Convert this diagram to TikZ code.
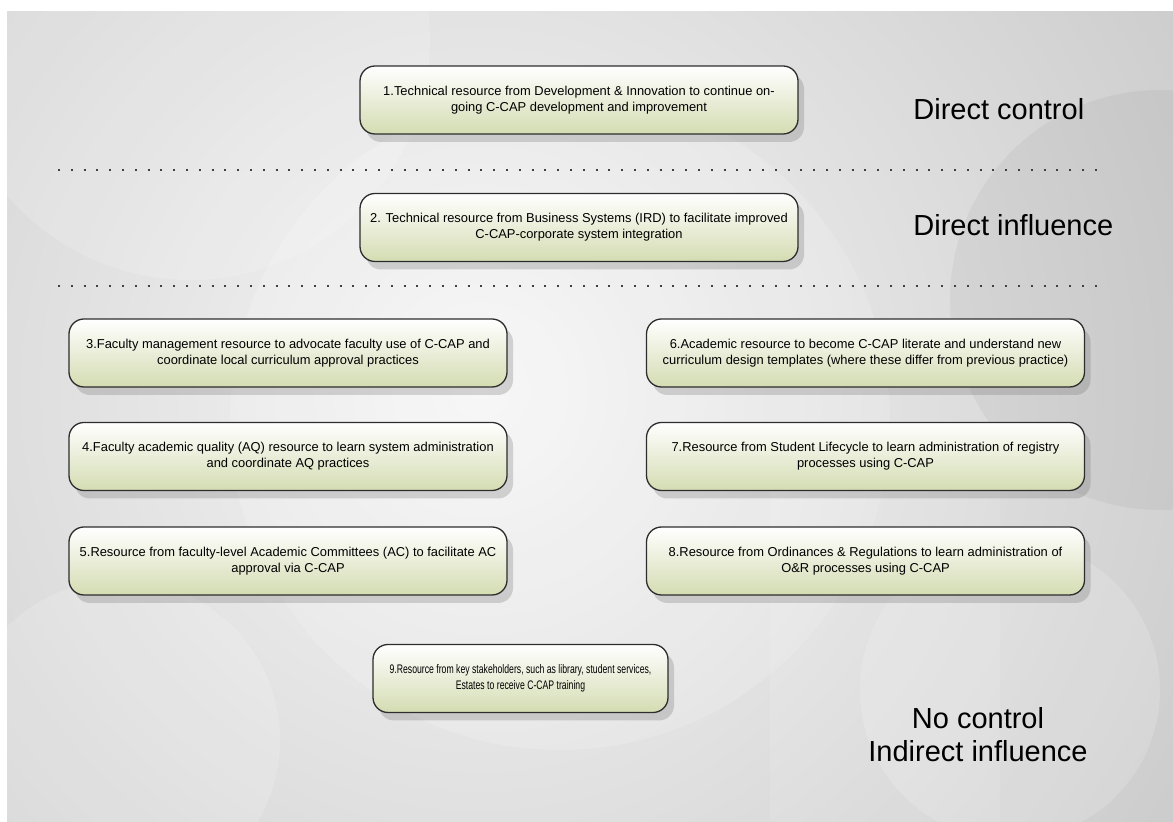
\documentclass[tikz,border=0pt]{standalone}
\usepackage{fontspec}
\setmainfont{Liberation Sans}
\newfontfamily\narrowfont[FakeStretch=0.7]{Liberation Sans}
\usetikzlibrary{shadows}
\definecolor{boxbot}{RGB}{212,220,178}
\definecolor{boxline}{RGB}{45,45,45}
\definecolor{bgout}{RGB}{200,200,200}
\definecolor{bgin}{RGB}{246,246,246}
\begin{document}
\begin{tikzpicture}[x=0.5pt,y=-0.5pt,
  resbox/.style={draw=boxline, line width=0.65pt, rounded corners=7.5pt,
    top color=white, bottom color=boxbot, minimum width=219pt,
    minimum height=34pt, align=center, font=\fontsize{6.45}{8}\selectfont,
    inner sep=0pt,
    drop shadow={shadow xshift=3pt, shadow yshift=-4pt, opacity=0.28, fill=black!55}},
  biglabel/.style={font=\fontsize{14.5}{16.5}\selectfont, inner sep=0pt},
  sepline/.style={draw=black!75, line width=1pt, dash pattern=on 1pt off 5.4pt},
  deco/.style={fill=white, opacity=0.16}]
\useasboundingbox (0,0) rectangle (1173,822);
\fill[white] (0,0) rectangle (1173,822);
\begin{scope}
  \clip (7,12) rectangle (1173,822);
  \shade[inner color=bgin, outer color=bgout] (480,390) circle (900);
  \fill[deco] (190,40) circle (240);
  \fill[deco] (560,420) circle (330);
  \fill[deco] (1010,690) circle (150);
  \fill[deco] (120,740) circle (160);
  \fill[black, opacity=0.04] (1160,300) circle (210);
  \fill[white, opacity=0.1] (770,440) rectangle (1000,822);
\end{scope}
% separators
\coordinate (s1a) at (58,170);
\coordinate (s1b) at (1105,170);
\coordinate (s2a) at (58,286);
\coordinate (s2b) at (1105,286);
\draw[sepline] (s1a) -- (s1b);
\draw[sepline] (s2a) -- (s2b);
% boxes
\node[resbox] (n1) at (579,100) {1.Technical resource from Development \& Innovation to continue on-\\going C-CAP development and improvement};
\node[resbox] (n2) at (579,227.5) {2. Technical resource from Business Systems (IRD) to facilitate improved\\C-CAP-corporate system integration};
\node[resbox] (n3) at (288,353) {3.Faculty management resource to advocate faculty use of C-CAP and\\coordinate local curriculum approval practices};
\node[resbox] (n4) at (288,456.5) {4.Faculty academic quality (AQ) resource to learn system administration\\and coordinate AQ practices};
\node[resbox] (n5) at (288,561) {5.Resource from faculty-level Academic Committees (AC) to facilitate AC\\approval via C-CAP};
\node[resbox] (n6) at (865.5,353) {6.Academic resource to become C-CAP literate and understand new\\curriculum design templates (where these differ from previous practice)};
\node[resbox] (n7) at (865.5,456.5) {7.Resource from Student Lifecycle to learn administration of registry\\processes using C-CAP};
\node[resbox] (n8) at (865.5,561) {8.Resource from Ordinances \& Regulations to learn administration of\\O\&R processes using C-CAP};
\node[resbox, minimum width=147.5pt, font=\narrowfont\fontsize{6.2}{8}\selectfont] (n9) at (520.5,678.5) {9.Resource from key stakeholders, such as library, student services,\\Estates to receive C-CAP training};
% zone labels
\node[biglabel, anchor=base west] (lab1) at (913,120) {Direct control};
\node[biglabel, anchor=base west] (lab2) at (913,236) {Direct influence};
\node[biglabel, anchor=base] (lab3a) at (978,729) {No control};
\node[biglabel, anchor=base] (lab3b) at (978,762) {Indirect influence};
\end{tikzpicture}
\end{document}
